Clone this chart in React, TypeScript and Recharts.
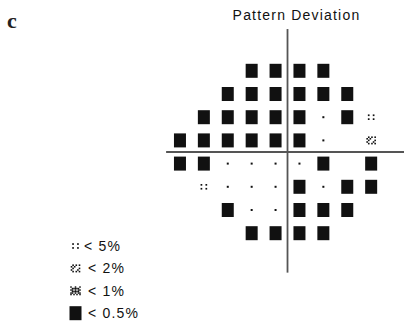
import React from 'react'
import { ScatterChart, Scatter, XAxis, YAxis, ReferenceLine, Legend, Customized } from 'recharts'

// probability codes: s = p<0.5%, p1 = p<1%, p2 = p<2%, p5 = p<5%, n = not significant, '' = blind spot
const rowStarts = [4, 3, 2, 1, 1, 2, 3, 4]
const row1 = ['s', 's', 's', 's']
const row2 = ['s', 's', 's', 's', 's', 's']
const row3 = ['s', 's', 's', 's', 's', 'n', 's', 'p5']
const row4 = ['s', 's', 's', 's', 's', 's', 'n', '', 'p2']
const row5 = ['s', 's', 'n', 'n', 'n', 'n', 's', '', 's']
const row6 = ['p5', 'n', 'n', 'n', 's', 'n', 's', 's']
const row7 = ['s', 'n', 'n', 's', 's', 's']
const row8 = ['s', 's', 's', 's']
const rows = [row1, row2, row3, row4, row5, row6, row7, row8]

const legendCodes = ['p5', 'p2', 'p1', 's']
const legendLabels = ['< 5%', '< 2%', '< 1%', '< 0.5%']

const title = 'Pattern Deviation'
const panelLabel = 'c'

// grid -> chart coords, axes cross at 0
const points = rows.flatMap((codes, r) =>
    codes
        .map((code, i) => ({ x: rowStarts[r] + i - 5.5, y: 3.5 - r, code }))
        .filter(p => p.code !== '')
)

const ink = '#111'

const p2Bits = [
    '.X.X.X',
    'X.X...',
    '.X...X',
    'X...X.',
    '.X.X.X',
]
const p1Bits = [
    'X..X..X',
    '.XXXXX.',
    'XX.X.XX',
    '.XXXXX.',
    'XX.X.XX',
    'X.X.X.X',
]

const Bitmap = ({ cx, cy, bits, cell }: { cx: number; cy: number; bits: string[]; cell: number }) => {
    const h = bits.length
    const w = bits[0].length
    const x0 = cx - (w * cell) / 2
    const y0 = cy - (h * cell) / 2
    return (
        <g>
            {bits.flatMap((line, j) =>
                line.split('').map((ch, i) =>
                    ch === 'X' ? (
                        <rect key={`${i}-${j}`} x={x0 + i * cell} y={y0 + j * cell} width={cell} height={cell} fill={ink} />
                    ) : null
                )
            )}
        </g>
    )
}

const Mark = ({ cx, cy, code }: { cx: number; cy: number; code: string }) => {
    if (code === 's') return <rect x={cx - 6} y={cy - 7} width={12} height={14} fill={ink} />
    if (code === 'n') return <rect x={cx - 1} y={cy - 1} width={2} height={2} fill={ink} />
    if (code === 'p5')
        return (
            <g fill={ink}>
                <rect x={cx - 3.3} y={cy - 2.8} width={1.7} height={1.7} />
                <rect x={cx + 1.6} y={cy - 2.8} width={1.7} height={1.7} />
                <rect x={cx - 3.3} y={cy + 1.1} width={1.7} height={1.7} />
                <rect x={cx + 1.6} y={cy + 1.1} width={1.7} height={1.7} />
            </g>
        )
    if (code === 'p2') return <Bitmap cx={cx} cy={cy} bits={p2Bits} cell={1.6} />
    return <Bitmap cx={cx} cy={cy} bits={p1Bits} cell={1.5} />
}

const legendTextX = [20, 24, 24, 24]

const LegendBox = () => (
    <svg width={110} height={92} style={{ display: 'block' }}>
        {legendCodes.map((code, i) => {
            const cy = 12 + i * 22.4
            return (
                <g key={code}>
                    <Mark cx={11.5} cy={cy} code={code} />
                    <text
                        x={legendTextX[i]}
                        y={cy + 5}
                        fontFamily="'Liberation Sans', Arial, sans-serif"
                        fontSize={14}
                        letterSpacing={1.2}
                        fill={ink}
                    >
                        {legendLabels[i]}
                    </text>
                </g>
            )
        })}
    </svg>
)

const Labels = () => (
    <g>
        <text x={7} y={28} fontFamily="'Liberation Serif', 'Times New Roman', serif" fontWeight="bold" fontSize={22} fill="#222">
            {panelLabel}
        </text>
        <text
            x={296.5}
            y={20}
            textAnchor="middle"
            fontFamily="'Liberation Sans', Arial, sans-serif"
            fontSize={14}
            letterSpacing={1.2}
            fill={ink}
        >
            {title}
        </text>
    </g>
)

export default function App() {
    return (
        <div style={{ position: 'absolute', left: 0, top: 0, background: '#fff' }}>
            <ScatterChart width={404} height={323} margin={{ top: 0, right: 0, bottom: 0, left: 0 }}>
                <XAxis type="number" dataKey="x" domain={[-12.03, 4.874]} hide allowDataOverflow />
                <YAxis type="number" dataKey="y" domain={[-7.371, 6.552]} hide allowDataOverflow />
                <ReferenceLine
                    segment={[{ x: 0, y: 5.3 }, { x: 0, y: -5.2 }]}
                    stroke="#555"
                    strokeWidth={1.8}
                    ifOverflow="visible"
                />
                <ReferenceLine
                    segment={[{ x: -5.08, y: 0 }, { x: 4.9, y: 0 }]}
                    stroke="#555"
                    strokeWidth={1.8}
                    ifOverflow="visible"
                />
                <Scatter
                    data={points}
                    isAnimationActive={false}
                    shape={(props: any) => <Mark cx={props.cx} cy={props.cy} code={props.payload.code} />}
                />
                <Legend
                    verticalAlign="middle"
                    align="center"
                    layout="horizontal"
                    wrapperStyle={{ left: 64, top: 234, width: 110, height: 92 }}
                    content={() => <LegendBox />}
                />
                <Customized component={Labels} />
            </ScatterChart>
        </div>
    )
}
